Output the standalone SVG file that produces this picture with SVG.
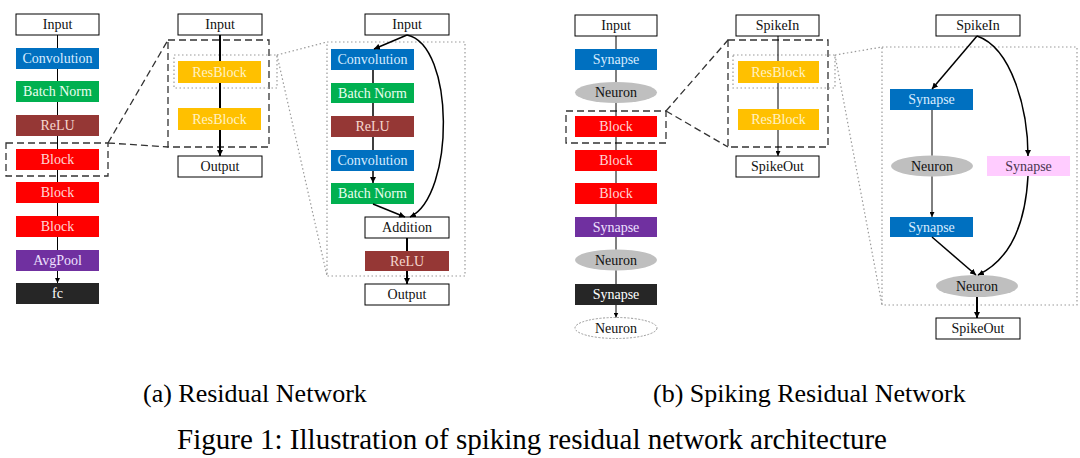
<svg xmlns="http://www.w3.org/2000/svg" width="1080" height="458" viewBox="0 0 1080 458">
<defs>
<marker id="ah" viewBox="0 0 10 10" refX="10" refY="5" markerWidth="5" markerHeight="5" markerUnits="userSpaceOnUse" orient="auto"><path d="M0,0 L10,5 L0,10 z" fill="#000"/></marker>
<marker id="ah2" viewBox="0 0 10 10" refX="10" refY="5" markerWidth="6" markerHeight="6" markerUnits="userSpaceOnUse" orient="auto"><path d="M0,0 L10,5 L0,10 z" fill="#000"/></marker>
<style>
text{font-family:"Liberation Serif","Times New Roman",serif;font-size:14px;text-anchor:middle}
.w{fill:#fff;stroke:#000;stroke-width:1}
.blue{fill:#0070C0}.green{fill:#00B050}.brown{fill:#953735}.red{fill:#FF0000}.yel{fill:#FFC000}.pur{fill:#7030A0}.blk{fill:#262626}.gray{fill:#BFBFBF}.pink{fill:#FFCCFF}
.tb{fill:#d8ecff}.tg{fill:#eafff0}.tr{fill:#f6d8cf}.tred{fill:#ffd6d6}.ty{fill:#fff2c4}.tp{fill:#eee0ff}.tw{fill:#fff}.tk{fill:#111}.tpk{fill:#4a3550}
.c1{fill:none;stroke:#000;stroke-width:1;marker-end:url(#ah)}
.c2{fill:none;stroke:#000;stroke-width:2;marker-end:url(#ah2)}
.c15{fill:none;stroke:#000;stroke-width:1.5;marker-end:url(#ah2)}
.dash{fill:none;stroke:#333;stroke-width:1.3;stroke-dasharray:7,4}
.dot{fill:none;stroke:#999;stroke-width:1.2;stroke-dasharray:1.5,2.5}
.cap{font-size:26px;text-anchor:start}
</style>
</defs>
<rect width="1080" height="458" fill="#fff"/>

<!-- zoom indicators -->
<g id="zoom-frames">
<rect class="dash" x="6" y="143" width="102" height="33"/>
<rect class="dash" x="168" y="40" width="101" height="107"/>
<path class="dash" d="M108,143 L168,40 M108,143 L168,147"/>
<rect class="dot" x="174" y="55" width="103" height="33"/>
<rect class="dot" x="327" y="42" width="138" height="234"/>
<path class="dot" d="M277,55 L327,42 M277,55 L327,276"/>
<rect class="dash" x="566" y="111" width="100" height="32"/>
<rect class="dash" x="728" y="40" width="100" height="107"/>
<path class="dash" d="M666,111 L728,40 M666,111 L728,147"/>
<rect class="dot" x="733" y="55" width="102" height="33"/>
<rect class="dot" x="882" y="47" width="195" height="258"/>
<path class="dot" d="M835,55 L882,47 M835,55 L882,305"/>
</g>

<!-- (a) left column -->
<g id="a-input"><rect class="w" x="16" y="14" width="83" height="21"/><text class="tk" x="57.5" y="29">Input</text></g>
<g id="a-conv"><rect class="blue" x="16" y="48" width="83" height="21"/><text class="tb" x="57.5" y="63">Convolution</text></g>
<g id="a-bn"><rect class="green" x="16" y="81" width="83" height="21"/><text class="tg" x="57.5" y="96">Batch Norm</text></g>
<g id="a-relu"><rect class="brown" x="16" y="115" width="83" height="21"/><text class="tr" x="57.5" y="130">ReLU</text></g>
<g id="a-block1"><rect class="red" x="16" y="149" width="83" height="21"/><text class="tred" x="57.5" y="164">Block</text></g>
<g id="a-block2"><rect class="red" x="16" y="182" width="83" height="21"/><text class="tred" x="57.5" y="197">Block</text></g>
<g id="a-block3"><rect class="red" x="16" y="216" width="83" height="21"/><text class="tred" x="57.5" y="231">Block</text></g>
<g id="a-avgpool"><rect class="pur" x="16" y="250" width="83" height="21"/><text class="tp" x="57.5" y="265">AvgPool</text></g>
<g id="a-fc"><rect class="blk" x="16" y="283" width="83" height="21"/><text class="tw" x="57.5" y="298">fc</text></g>

<!-- (a) middle -->
<g id="am-input"><rect class="w" x="178" y="14" width="84" height="21"/><text class="tk" x="220" y="29">Input</text></g>
<g id="am-res1"><rect class="yel" x="178" y="61" width="83" height="22"/><text class="ty" x="219.5" y="76.5">ResBlock</text></g>
<g id="am-res2"><rect class="yel" x="178" y="108" width="83" height="22"/><text class="ty" x="219.5" y="123.5">ResBlock</text></g>
<g id="am-output"><rect class="w" x="178" y="156" width="84" height="21"/><text class="tk" x="220" y="171">Output</text></g>

<!-- (a) right -->
<g id="ar-input"><rect class="w" x="365" y="14" width="84" height="21"/><text class="tk" x="407" y="29">Input</text></g>
<g id="ar-conv1"><rect class="blue" x="331" y="49" width="83" height="21"/><text class="tb" x="372.5" y="64">Convolution</text></g>
<g id="ar-bn1"><rect class="green" x="331" y="83" width="83" height="20"/><text class="tg" x="372.5" y="97.5">Batch Norm</text></g>
<g id="ar-relu1"><rect class="brown" x="331" y="116" width="83" height="21"/><text class="tr" x="372.5" y="131">ReLU</text></g>
<g id="ar-conv2"><rect class="blue" x="331" y="150" width="83" height="21"/><text class="tb" x="372.5" y="165">Convolution</text></g>
<g id="ar-bn2"><rect class="green" x="331" y="183" width="83" height="21"/><text class="tg" x="372.5" y="198">Batch Norm</text></g>
<g id="ar-add"><rect class="w" x="365" y="217" width="84" height="21"/><text class="tk" x="407" y="232">Addition</text></g>
<g id="ar-relu2"><rect class="brown" x="365" y="251" width="84" height="20"/><text class="tr" x="407" y="265.5">ReLU</text></g>
<g id="ar-output"><rect class="w" x="365" y="284" width="84" height="21"/><text class="tk" x="407" y="299">Output</text></g>

<!-- (b) left column -->
<g id="b-input"><rect class="w" x="575" y="15" width="82" height="21"/><text class="tk" x="616" y="30">Input</text></g>
<g id="b-syn1"><rect class="blue" x="575" y="49" width="82" height="21"/><text class="tb" x="616" y="64">Synapse</text></g>
<g id="b-neu1"><ellipse class="gray" cx="616" cy="92.5" rx="41" ry="10.5"/><text class="tk" x="616" y="97">Neuron</text></g>
<g id="b-block1"><rect class="red" x="575" y="116" width="82" height="21"/><text class="tred" x="616" y="131">Block</text></g>
<g id="b-block2"><rect class="red" x="575" y="150" width="82" height="21"/><text class="tred" x="616" y="165">Block</text></g>
<g id="b-block3"><rect class="red" x="575" y="183" width="82" height="21"/><text class="tred" x="616" y="198">Block</text></g>
<g id="b-syn2"><rect class="pur" x="575" y="217" width="82" height="20"/><text class="tp" x="616" y="231.5">Synapse</text></g>
<g id="b-neu2"><ellipse class="gray" cx="616" cy="260" rx="41" ry="10.5"/><text class="tk" x="616" y="264.5">Neuron</text></g>
<g id="b-syn3"><rect class="blk" x="575" y="284" width="82" height="21"/><text class="tw" x="616" y="299">Synapse</text></g>
<g id="b-neu3"><ellipse cx="616" cy="328" rx="41" ry="10.5" fill="#fff" stroke="#999" stroke-width="1" stroke-dasharray="2,1.5"/><text class="tk" x="616" y="332.5">Neuron</text></g>

<!-- (b) middle -->
<g id="bm-in"><rect class="w" x="736" y="15" width="83" height="21"/><text class="tk" x="777.5" y="30">SpikeIn</text></g>
<g id="bm-res1"><rect class="yel" x="738" y="61" width="81" height="22"/><text class="ty" x="778.5" y="76.5">ResBlock</text></g>
<g id="bm-res2"><rect class="yel" x="738" y="109" width="81" height="21"/><text class="ty" x="778.5" y="124">ResBlock</text></g>
<g id="bm-out"><rect class="w" x="736" y="156" width="83" height="21"/><text class="tk" x="777.5" y="171">SpikeOut</text></g>

<!-- (b) right -->
<g id="br-in"><rect class="w" x="936" y="15" width="84" height="21"/><text class="tk" x="978" y="30">SpikeIn</text></g>
<g id="br-syn1"><rect class="blue" x="890" y="89" width="83" height="21"/><text class="tb" x="931.5" y="104">Synapse</text></g>
<g id="br-neu1"><ellipse class="gray" cx="932" cy="166" rx="41" ry="10.5"/><text class="tk" x="932" y="170.5">Neuron</text></g>
<g id="br-synp"><rect class="pink" x="987" y="156" width="83" height="20"/><text class="tpk" x="1028.5" y="170.5">Synapse</text></g>
<g id="br-syn2"><rect class="blue" x="890" y="217" width="83" height="20"/><text class="tb" x="931.5" y="231.5">Synapse</text></g>
<g id="br-neu2"><ellipse class="gray" cx="977" cy="286" rx="41" ry="11"/><text class="tk" x="977" y="290.5">Neuron</text></g>
<g id="br-out"><rect class="w" x="936" y="318" width="84" height="21"/><text class="tk" x="978" y="333">SpikeOut</text></g>

<g id="connectors">
<path class="c1" d="M57.5,35 V48 M57.5,69 V81 M57.5,102 V115 M57.5,136 V149 M57.5,170 V182 M57.5,203 V216 M57.5,237 V250 M57.5,271 V283"/>
<path class="c2" d="M220,35 V61 M220,83 V108 M220,130 V156"/>
<path class="c15" d="M407,35 L374,49"/>
<path class="c15" d="M407,35 C455,45 455,195 410,217"/>
<path class="c15" d="M373,70 V83 M373,103 V116 M373,137 V150 M373,171 V183"/>
<path class="c15" d="M373,204 L405,217"/>
<path class="c2" d="M407,238 V251 M407,271 V284"/>
<path class="c1" d="M616,36 V49 M616,70 V82 M616,103 V116 M616,137 V150 M616,171 V183 M616,204 V217 M616,237 V249.5 M616,270.5 V284 M616,305 V317.5"/>
<path class="c1" d="M778,36 V61 M778,83 V109 M778,130 V156"/>
<path class="c15" d="M977,36 L932,89"/>
<path class="c15" d="M977,36 C1012,48 1028,110 1028,156"/>
<path class="c1" d="M932,110 V155.5 M932,176.5 V217"/>
<path class="c15" d="M932,237 L976,275"/>
<path class="c15" d="M1028,176 C1025,232 1005,262 978,275"/>
<path class="c2" d="M977,297 V318"/>
</g>

<g id="captions">
<text class="cap" x="143" y="402">(a) Residual Network</text>
<text class="cap" x="653" y="402" font-size="26.5">(b) Spiking Residual Network</text>
<text x="177" y="449" style="font-size:29px;text-anchor:start" textLength="710" lengthAdjust="spacingAndGlyphs">Figure 1: Illustration of spiking residual network architecture</text>
</g>
</svg>
